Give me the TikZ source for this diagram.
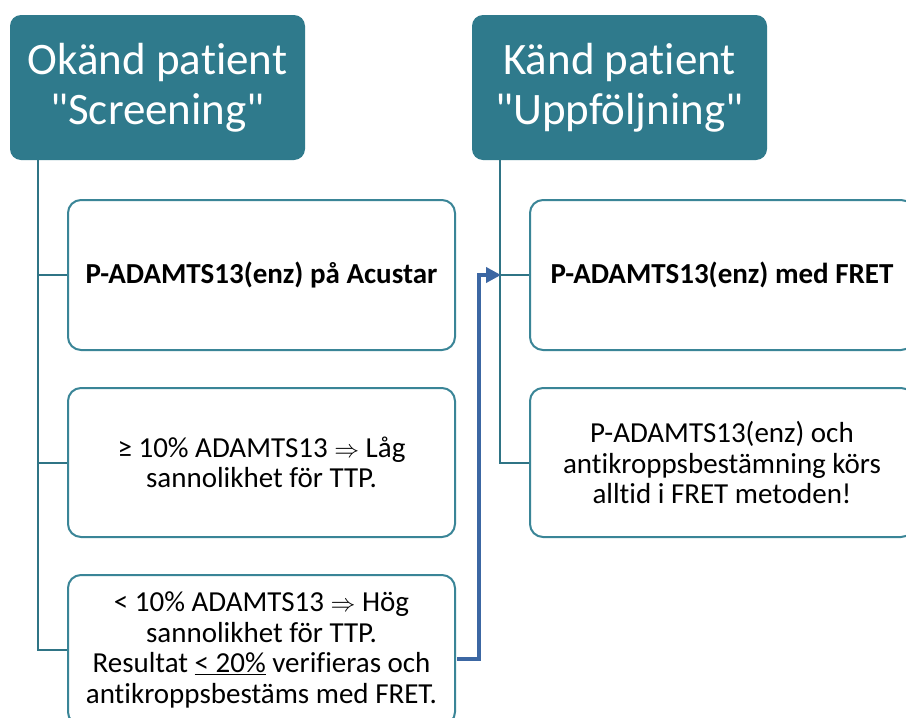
\documentclass[tikz,border=0pt]{standalone}
\usepackage{fontspec}
\setmainfont{Carlito}[Ligatures={TeXOff,NoCommon}]
\usetikzlibrary{arrows.meta}
\definecolor{hdrfill}{HTML}{2F7A8C}
\definecolor{boxline}{HTML}{3A8597}
\definecolor{conline}{HTML}{2F7485}
\definecolor{arrowblue}{HTML}{3C67A3}
\tikzset{
  hdr/.style={draw=none, fill=hdrfill, rounded corners=11pt, text=white,
    minimum width=295pt, minimum height=145pt, align=center,
    font=\fontsize{45}{50}\selectfont},
  item/.style={draw=boxline, line width=2pt, fill=white, rounded corners=13pt,
    align=center, font=\fontsize{29}{30.5}\selectfont, inner sep=0pt},
  conn/.style={draw=conline, line width=2pt},
  jump/.style={draw=arrowblue, line width=4pt, -{Triangle[length=15pt,width=15pt]}}
}
\begin{document}
\begin{tikzpicture}[x=1pt,y=-1pt]
\useasboundingbox (0,0) rectangle (906,718);
\clip (0,0) rectangle (906,718);
\fill[white] (0,0) rectangle (906,718);

\node[hdr] (h1) at (157.5,87.5) {Okänd patient\\"Screening"};
\node[hdr] (h2) at (619.5,87.5) {Känd patient\\"Uppföljning"};

\node[item, minimum width=387pt, minimum height=150pt] (l1) at (261.5,275) {\bfseries P-ADAMTS13(enz) på Acustar};
\node[item, minimum width=387pt, minimum height=149pt] (l2) at (261.5,462.5) {≥ 10\% ADAMTS13 $\Rightarrow$ Låg\\sannolikhet för TTP.};
\node[item, minimum width=387pt, minimum height=150pt] (l3) at (261.5,650) {< 10\% ADAMTS13 $\Rightarrow$ Hög\\sannolikhet för TTP.\\Resultat \underline{< 20\%} verifieras och\\antikroppsbestäms med FRET.};

\node[item, minimum width=384pt, minimum height=150pt] (r1) at (722,275) {\bfseries P-ADAMTS13(enz) med FRET};
\node[item, minimum width=384pt, minimum height=149pt] (r2) at (722,462.5) {P-ADAMTS13(enz) och\\antikroppsbestämning körs\\alltid i FRET metoden!};

% left tree
\coordinate (lv) at (38,0);
\draw[conn] (lv |- h1.south) -- (lv |- l3.west) -- (l3.west);
\draw[conn] (lv |- l1.west) -- (l1.west);
\draw[conn] (lv |- l2.west) -- (l2.west);

% right tree
\coordinate (rv) at (500,0);
\draw[conn] (rv |- h2.south) -- (rv |- r2.west) -- (r2.west);
\draw[conn] (rv |- r1.west) -- (r1.west);

% jump arrow
\coordinate (js) at (457,659);
\coordinate (jx) at (479,0);
\draw[jump] (js) -- (jx |- js) -- (jx |- r1.west) -- ([xshift=1pt]rv |- r1.west);
\end{tikzpicture}
\end{document}
